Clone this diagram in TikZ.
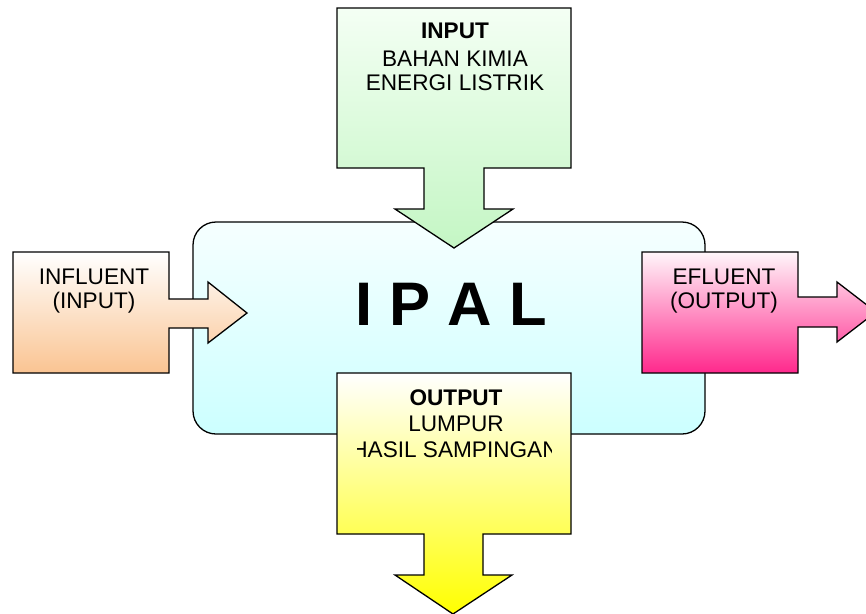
\documentclass[tikz,border=0pt]{standalone}
\usepackage{fontspec}
\setmainfont{Liberation Sans}
\begin{document}
\begin{tikzpicture}[x=1pt,y=-1pt,
  calloutbox/.style={draw=black,line width=1.3pt,line join=miter},
  lbl/.style={anchor=base,inner sep=0pt,font=\fontsize{22.6}{26}\selectfont},
  lblb/.style={lbl,font=\fontsize{22.6}{26}\selectfont\bfseries}]
\useasboundingbox (0,0) rectangle (866,613);
\definecolor{ipalTop}{RGB}{246,255,255}
\definecolor{ipalBot}{RGB}{204,255,255}
\definecolor{infBot}{RGB}{250,196,146}
\definecolor{efBot}{RGB}{255,40,140}
\definecolor{efTop}{RGB}{255,246,250}
\definecolor{inTop}{RGB}{244,255,244}
\definecolor{inBot}{RGB}{196,246,196}
\definecolor{outBot}{RGB}{255,255,0}
% IPAL main box
\path[calloutbox,rounded corners=23pt,top color=ipalTop,bottom color=ipalBot]
  (193,222) rectangle (705,434);
\node[anchor=base,inner sep=0pt,font=\fontsize{61.5}{70}\selectfont\bfseries] (ipal) at (451,325) {I P A L};
% Influent
\path[calloutbox,top color=white,bottom color=infBot]
  (13,252) -- (169,252) -- (169,299) -- (208,299) -- (208,282) -- (247,313)
  -- (208,343) -- (208,328) -- (169,328) -- (169,373) -- (13,373) -- cycle;
\node[lbl] (inf1) at (94,284) {INFLUENT};
\node[lbl] (inf2) at (94,308) {(INPUT)};
% Efluent
\path[calloutbox,top color=efTop,bottom color=efBot]
  (642,252) -- (798,252) -- (798,297) -- (837,297) -- (837,282) -- (876,312)
  -- (837,342) -- (837,327) -- (798,327) -- (798,373) -- (642,373) -- cycle;
\node[lbl] (ef1) at (724,284) {EFLUENT};
\node[lbl] (ef2) at (724,308) {(OUTPUT)};
% Input (top)
\path[calloutbox,top color=inTop,bottom color=inBot]
  (337,8) -- (571,8) -- (571,168) -- (484,168) -- (484,209) -- (513,209)
  -- (454,248) -- (395,209) -- (424,209) -- (424,168) -- (337,168) -- cycle;
\node[lblb] (in1) at (455,38) {INPUT};
\node[lbl] (in2) at (455,66) {BAHAN KIMIA};
\node[lbl] (in3) at (455,90) {ENERGI LISTRIK};
% Output (bottom)
\path[calloutbox,top color=white,bottom color=outBot]
  (337,373) -- (571,373) -- (571,534) -- (483,534) -- (483,575) -- (512,575)
  -- (453,614) -- (395,575) -- (424,575) -- (424,534) -- (337,534) -- cycle;
\node[lblb] (out1) at (456,405) {OUTPUT};
\node[lbl] (out2) at (456,431) {LUMPUR};
\begin{scope}
  \clip (357,435) rectangle (551,465);
  \node[lbl] (out3) at (455,457) {HASIL SAMPINGAN};
\end{scope}
\end{tikzpicture}
\end{document}
